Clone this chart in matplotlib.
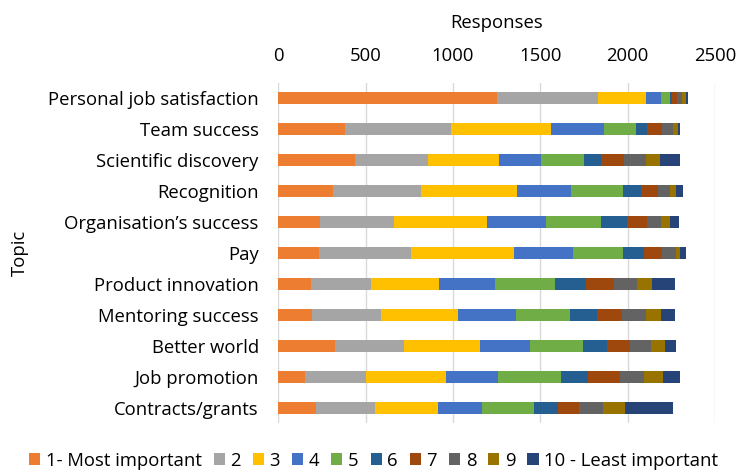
import numpy as np
import matplotlib
matplotlib.use("Agg")
import matplotlib.pyplot as plt

plt.rcParams['font.family'] = ['Open Sans', 'DejaVu Sans']

topics = ["Personal job satisfaction", "Team success", "Scientific discovery",
          "Recognition", "Organisation\u2019s success", "Pay", "Product innovation",
          "Mentoring success", "Better world", "Job promotion", "Contracts/grants"]

ranks = ["1- Most important", "2", "3", "4", "5", "6", "7", "8", "9",
         "10 - Least important"]

# counts per rank (columns) for each topic (rows)
rank1 = [1250, 382, 439, 315, 239, 233, 185, 193, 324, 153, 219]
rank2 = [582, 606, 418, 505, 423, 530, 344, 398, 395, 349, 334]
rank3 = [276, 573, 406, 550, 531, 588, 393, 439, 439, 456, 363]
rank4 = [86, 303, 239, 305, 343, 338, 318, 334, 283, 299, 252]
rank5 = [52, 187, 248, 300, 311, 286, 347, 306, 305, 361, 297]
rank6 = [10, 63, 101, 105, 151, 118, 174, 156, 139, 153, 136]
rank7 = [28, 86, 130, 95, 114, 107, 160, 141, 132, 185, 120]
rank8 = [30, 61, 127, 67, 82, 76, 134, 138, 120, 137, 136]
rank9 = [18, 27, 77, 38, 52, 23, 88, 89, 76, 111, 129]
rank10 = [12, 11, 114, 38, 47, 35, 131, 80, 67, 95, 275]

series = [rank1, rank2, rank3, rank4, rank5, rank6, rank7, rank8, rank9, rank10]
colors = ['#ED7D31', '#A5A5A5', '#FFC000', '#4472C4', '#70AD47',
          '#255E91', '#9E480E', '#636363', '#997300', '#264478']

fs = 13.3
fig = plt.figure(figsize=(7.4, 4.72), dpi=100)
ax = fig.add_axes([0.376, 0.103, 0.590, 0.722])

y = np.arange(len(topics))
left = np.zeros(len(topics))
for vals, c, lab in zip(series, colors, ranks):
    ax.barh(y, vals, left=left, height=0.4, color=c, label=lab)
    left += np.array(vals)

ax.set_ylim(len(topics) - 0.5, -0.5)
ax.set_xlim(0, 2500)
ax.set_xticks(np.arange(0, 2501, 500))
ax.set_yticks(y)
ax.set_yticklabels(topics, fontsize=fs)
ax.xaxis.tick_top()
ax.xaxis.set_label_position('top')
ax.set_xlabel("Responses", fontsize=fs, labelpad=13)
ax.set_ylabel("Topic", fontsize=fs)
ax.yaxis.set_label_coords(-0.572, 0.5)
ax.tick_params(axis='x', length=0, labelsize=fs, pad=13)
ax.tick_params(axis='y', length=0, pad=14)
ax.grid(axis='x', color='#D9D9D9', linewidth=1)
ax.set_axisbelow(True)
for s in ax.spines.values():
    s.set_visible(False)

fig.legend(loc='lower center', bbox_to_anchor=(0.505, -0.03), ncol=10, frameon=False,
           fontsize=fs, handlelength=0.6, handleheight=0.6, handletextpad=0.3,
           columnspacing=0.65)

fig.savefig('out.png', dpi=100)
